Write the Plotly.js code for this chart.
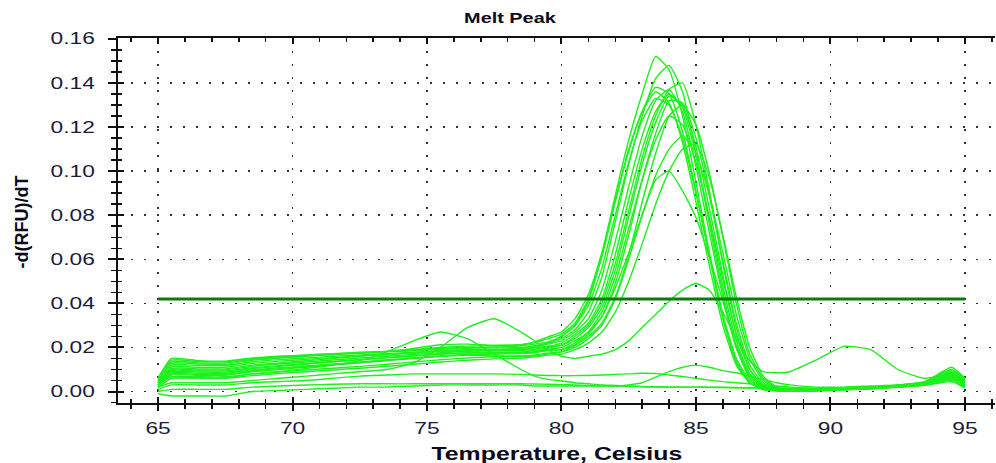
<!DOCTYPE html>
<html>
<head>
<meta charset="utf-8">
<script src="https://cdn.plot.ly/plotly-3.0.1.min.js"></script>
<style>html,body{margin:0;padding:0;background:#fff;}#chart{width:996px;height:463px;}</style>
</head>
<body>
<div id="chart"></div>
<script>
// Temperature grid (Celsius)
const temps = [65, 65.5, 66.5, 67.5, 68.5, 69.5, 70.5, 71.5, 72.5, 73.5, 74.5, 75.5, 76.5, 77.5, 78.5, 79, 79.5,
  80, 80.5, 81, 81.5, 82, 82.5, 83, 83.5, 84, 84.5, 85, 85.5, 86, 86.5, 87, 87.5, 88, 88.5,
  89.5, 90.5, 91.5, 92.5, 93.5, 94.5, 95];

// -d(RFU)/dT per well
const c1 = [0.006,0.0150,0.0140,0.0138,0.0152,0.0160,0.0166,0.0172,0.0178,0.0182,0.0188,0.0196,0.0200,0.0202,0.0208,0.0215,0.0225,
  0.025,0.030,0.041,0.062,0.089,0.114,0.135,0.152,0.146,0.125,0.095,0.063,0.034,0.014,0.004,0.001,0.0003,0.0002,
  0.0003,0.0008,0.0012,0.0020,0.0030,0.0060,0.0030];
const c2 = [0.005,0.0135,0.0130,0.0130,0.0146,0.0154,0.0162,0.0168,0.0174,0.0180,0.0185,0.0192,0.0196,0.0198,0.0200,0.0208,0.0220,
  0.024,0.028,0.036,0.052,0.077,0.103,0.125,0.142,0.148,0.136,0.108,0.076,0.045,0.020,0.006,0.0015,0.0005,0.0003,
  0.0005,0.0010,0.0015,0.0025,0.0040,0.0090,0.0050];
const c3 = [0.005,0.0120,0.0118,0.0118,0.0135,0.0145,0.0152,0.0160,0.0166,0.0172,0.0178,0.0184,0.0188,0.0190,0.0192,0.0198,0.0205,
  0.021,0.025,0.030,0.040,0.058,0.082,0.106,0.125,0.137,0.140,0.121,0.091,0.058,0.029,0.010,0.003,0.001,0.0005,
  0.0005,0.0010,0.0018,0.0025,0.0035,0.0075,0.0040];
const c4 = [0.006,0.0142,0.0136,0.0135,0.0150,0.0158,0.0164,0.0170,0.0176,0.0182,0.0190,0.0200,0.0206,0.0208,0.0212,0.0222,0.0240,
  0.026,0.031,0.042,0.061,0.086,0.109,0.127,0.138,0.135,0.118,0.091,0.061,0.033,0.013,0.004,0.001,0.0004,0.0002,
  0.0004,0.0008,0.0012,0.0020,0.0032,0.0065,0.0030];
const c5 = [0.004,0.0112,0.0110,0.0110,0.0128,0.0138,0.0146,0.0154,0.0162,0.0168,0.0174,0.0182,0.0186,0.0188,0.0192,0.0200,0.0215,
  0.023,0.027,0.033,0.046,0.068,0.093,0.116,0.132,0.137,0.127,0.102,0.072,0.043,0.020,0.007,0.002,0.0006,0.0003,
  0.0006,0.0012,0.0018,0.0028,0.0042,0.0110,0.0060];
const c6 = [0.005,0.0128,0.0125,0.0124,0.0142,0.0152,0.0160,0.0168,0.0175,0.0182,0.0196,0.0212,0.0215,0.0210,0.0212,0.0225,0.0248,
  0.027,0.033,0.044,0.063,0.087,0.110,0.127,0.136,0.131,0.113,0.086,0.057,0.030,0.012,0.004,0.001,0.0004,0.0002,
  0.0004,0.0009,0.0014,0.0022,0.0035,0.0070,0.0035];
const c7 = [0.004,0.0100,0.0098,0.0098,0.0115,0.0125,0.0134,0.0143,0.0152,0.0160,0.0168,0.0176,0.0182,0.0184,0.0186,0.0192,0.0205,
  0.022,0.026,0.031,0.042,0.062,0.087,0.110,0.127,0.135,0.129,0.107,0.078,0.048,0.023,0.008,0.0025,0.0008,0.0004,
  0.0006,0.0012,0.0018,0.0026,0.0038,0.0080,0.0045];
const c8 = [0.003,0.0090,0.0088,0.0088,0.0104,0.0114,0.0124,0.0134,0.0144,0.0153,0.0161,0.0170,0.0176,0.0178,0.0180,0.0186,0.0198,
  0.021,0.024,0.029,0.038,0.055,0.079,0.103,0.122,0.134,0.130,0.111,0.083,0.053,0.026,0.010,0.003,0.001,0.0005,
  0.0007,0.0013,0.0020,0.0028,0.0040,0.0085,0.0050];
const c9 = [0.004,0.0105,0.0103,0.0103,0.0120,0.0130,0.0140,0.0150,0.0160,0.0168,0.0176,0.0185,0.0190,0.0192,0.0195,0.0205,0.0222,
  0.025,0.030,0.039,0.056,0.080,0.104,0.123,0.133,0.130,0.115,0.090,0.062,0.035,0.015,0.005,0.0015,0.0005,0.0003,
  0.0005,0.0010,0.0016,0.0024,0.0036,0.0072,0.0038];
const c10 = [0.003,0.0080,0.0078,0.0078,0.0094,0.0104,0.0114,0.0124,0.0134,0.0144,0.0152,0.0162,0.0168,0.0172,0.0175,0.0180,0.0192,
  0.020,0.023,0.027,0.034,0.049,0.071,0.096,0.117,0.132,0.131,0.115,0.089,0.059,0.031,0.012,0.004,0.0012,0.0005,
  0.0006,0.0012,0.0019,0.0027,0.0039,0.0095,0.0055];
const c11 = [0.003,0.0075,0.0074,0.0074,0.0090,0.0100,0.0110,0.0120,0.0130,0.0140,0.0150,0.0160,0.0166,0.0170,0.0172,0.0176,0.0186,
  0.019,0.021,0.025,0.031,0.043,0.062,0.086,0.108,0.125,0.130,0.121,0.099,0.070,0.040,0.017,0.006,0.002,0.0008,
  0.0008,0.0014,0.0020,0.0030,0.0045,0.0100,0.0060];
const d1 = [0.004,0.0095,0.0093,0.0093,0.0108,0.0118,0.0127,0.0136,0.0145,0.0154,0.0162,0.0170,0.0175,0.0176,0.0176,0.0180,0.0190,
  0.019,0.022,0.027,0.036,0.052,0.074,0.096,0.114,0.125,0.121,0.104,0.079,0.051,0.026,0.010,0.003,0.001,0.0005,
  0.0006,0.0011,0.0017,0.0025,0.0036,0.0068,0.0035];
const e1 = [0.003,0.0068,0.0067,0.0067,0.0080,0.0090,0.0098,0.0106,0.0114,0.0124,0.0134,0.0144,0.0152,0.0158,0.0162,0.0166,0.0175,
  0.018,0.020,0.024,0.030,0.042,0.060,0.080,0.098,0.110,0.116,0.108,0.089,0.063,0.035,0.015,0.005,0.0015,0.0006,
  0.0007,0.0012,0.0018,0.0026,0.0038,0.0078,0.0042];
const f1 = [0.002,0.0060,0.0060,0.0060,0.0072,0.0082,0.0090,0.0098,0.0106,0.0115,0.0124,0.0134,0.0142,0.0148,0.0152,0.0158,0.0165,
  0.017,0.019,0.022,0.027,0.036,0.050,0.067,0.085,0.100,0.110,0.112,0.097,0.071,0.043,0.020,0.007,0.002,0.0008,
  0.0008,0.0013,0.0020,0.0028,0.0040,0.0082,0.0048];
const g1 = [0.003,0.0085,0.0083,0.0083,0.0098,0.0108,0.0116,0.0124,0.0132,0.0142,0.0152,0.0160,0.0164,0.0162,0.0160,0.0162,0.0170,
  0.018,0.021,0.026,0.034,0.047,0.063,0.080,0.096,0.100,0.091,0.079,0.061,0.041,0.021,0.008,0.0025,0.0008,0.0004,
  0.0006,0.0011,0.0016,0.0024,0.0034,0.0062,0.0030];
const h2 = [0.002,0.004,0.004,0.004,0.005,0.006,0.007,0.008,0.009,0.010,0.013,0.020,0.029,0.033,0.027,0.023,0.019,
  0.016,0.015,0.016,0.017,0.019,0.023,0.029,0.035,0.041,0.046,0.049,0.046,0.036,0.024,0.014,0.009,0.0085,0.009,
  0.0145,0.0205,0.019,0.010,0.006,0.008,0.004];
const l1 = [-0.001,-0.002,-0.002,-0.002,0.000,0.0005,0.001,0.0015,0.002,0.002,0.0025,0.003,0.003,0.003,0.003,0.0025,0.0025,
  0.0025,0.0025,0.0025,0.0025,0.0025,0.003,0.004,0.0065,0.009,0.011,0.012,0.011,0.0095,0.0085,0.007,0.0055,0.004,0.003,
  0.002,0.002,0.0025,0.003,0.004,0.006,0.003];
const l2 = [0.001,0.003,0.003,0.003,0.004,0.0045,0.005,0.006,0.007,0.0075,0.008,0.008,0.008,0.008,0.0078,0.0075,0.0073,
  0.0072,0.0072,0.0073,0.0075,0.0078,0.008,0.0083,0.0082,0.0075,0.0068,0.006,0.0052,0.0045,0.004,0.0035,0.003,0.0025,0.002,
  0.0015,0.0015,0.002,0.0025,0.003,0.005,0.002];
const l3 = [0.002,0.006,0.0062,0.0062,0.008,0.009,0.0105,0.012,0.014,0.018,0.023,0.027,0.024,0.017,0.010,0.007,0.0055,
  0.0048,0.004,0.0035,0.003,0.0028,0.0025,0.0022,0.002,0.002,0.002,0.002,0.002,0.002,0.0018,0.0017,0.0016,0.0015,0.0015,
  0.0012,0.0012,0.0015,0.002,0.003,0.0055,0.0025];
const l4 = [0.000,0.001,0.001,0.001,0.002,0.0025,0.003,0.0033,0.0035,0.0035,0.0035,0.0036,0.0036,0.0036,0.0035,0.0034,0.0033,
  0.0032,0.003,0.0028,0.0026,0.0025,0.0024,0.0023,0.0022,0.0021,0.002,0.002,0.0019,0.0018,0.0017,0.0016,0.0015,0.0014,0.0013,
  0.0012,0.0013,0.0016,0.002,0.0028,0.0045,0.0015];

const wells = [l4, l3, l2, l1, h2, g1, f1, e1, d1, c11, c10, c9, c8, c7, c6, c5, c4, c3, c2, c1];

// Threshold
const thresholdX = [65, 95];
const thresholdY = [0.042, 0.042];

const xRange = [63.51, 96.12];
const yRange = [-0.0052, 0.1604];

const fam = 'Liberation Sans, Arial, sans-serif';
const tickFont = {family: fam, size: 16, color: '#1b1b3a'};
const titleFont = {family: fam, size: 18, color: '#0a0a1a', weight: 'bold'};

const traces = wells.map(w => ({
  x: temps, y: w, type: 'scatter', mode: 'lines',
  line: {color: 'rgb(30,240,30)', width: 1.4, shape: 'spline', smoothing: 0.5},
  hoverinfo: 'skip', showlegend: false
}));
traces.push({
  x: thresholdX, y: thresholdY, type: 'scatter', mode: 'lines', xaxis: 'x2', yaxis: 'y2',
  line: {color: '#0b7a0b', width: 3}, hoverinfo: 'skip', showlegend: false
});

const innerTicks = (dt, t0, mdt, len, mlen) => ({
  tickmode: 'linear', dtick: dt, tick0: t0, ticks: 'inside', ticklen: len, tickwidth: 2, tickcolor: '#111',
  minor: {dtick: mdt, tick0: t0, ticks: 'inside', ticklen: mlen, tickwidth: 1.5, tickcolor: '#111', showgrid: false},
  showticklabels: false, showgrid: false, zeroline: false
});

const layout = {
  width: 996, height: 463,
  margin: {l: 118, r: 1, t: 38, b: 60},
  paper_bgcolor: '#fff', plot_bgcolor: '#fff',
  title: {text: 'Melt Peak', font: {family: fam, size: 14, color: '#0a0a1a', weight: 'bold'},
    xref: 'container', x: 0.512, xanchor: 'center', yref: 'container', y: 0.961, yanchor: 'middle'},
  xaxis: {
    range: xRange, tick0: 65, dtick: 5, tickmode: 'linear',
    showline: true, linecolor: '#111', linewidth: 2, mirror: true,
    ticks: 'outside', ticklen: 6, tickwidth: 2, tickcolor: '#111',
    minor: {dtick: 1, tick0: 65, ticks: 'outside', ticklen: 4, tickwidth: 1.5, tickcolor: '#111', showgrid: false},
    showgrid: true, gridcolor: '#333', gridwidth: 1.5, griddash: '2px,11px',
    zeroline: false, tickfont: tickFont, ticklabelstandoff: 4
  },
  yaxis: {
    range: yRange, tick0: 0, dtick: 0.02, tickmode: 'linear', tickformat: '.2f',
    showline: true, linecolor: '#111', linewidth: 2,
    ticks: 'outside', ticklen: 8, tickwidth: 2, tickcolor: '#111',
    minor: {dtick: 0.005, tick0: 0, ticks: 'outside', ticklen: 5, tickwidth: 1.5, tickcolor: '#111', showgrid: false},
    showgrid: true, gridcolor: '#333', gridwidth: 1.5, griddash: '2px,11px',
    zeroline: false, tickfont: tickFont, ticklabelstandoff: 10
  },
  xaxis2: Object.assign({overlaying: 'x', anchor: 'y2', side: 'bottom', range: xRange, mirror: 'ticks', showline: false},
    innerTicks(5, 65, 1, 6, 4)),
  yaxis2: Object.assign({overlaying: 'y', anchor: 'x2', side: 'left', range: yRange, showline: false},
    innerTicks(0.02, 0, 0.005, 6, 4)),
  annotations: [
    {text: 'Temperature, Celsius', xref: 'paper', yref: 'paper', x: 0.5, y: -0.1397, xanchor: 'center', yanchor: 'middle',
      showarrow: false, font: titleFont},
    {text: '-d(RFU)/dT', xref: 'paper', yref: 'paper', x: -0.1095, y: 0.497, xanchor: 'center', yanchor: 'middle',
      textangle: -90, showarrow: false, font: titleFont}
  ]
};

Plotly.newPlot('chart', traces, layout, {staticPlot: true, displayModeBar: false}).then(gd => {
  const stretch = 1.42;
  const sel = gd.querySelectorAll('.xtick text, .ytick text, .gtitle');
  sel.forEach(el => {
    const len = el.getComputedTextLength();
    el.setAttribute('textLength', (len * stretch).toFixed(1));
    el.setAttribute('lengthAdjust', 'spacingAndGlyphs');
  });
  const ann = gd.querySelectorAll('.annotation-text');
  if (ann.length) {
    const el = ann[0];
    const len = el.getComputedTextLength();
    el.setAttribute('textLength', (len * 1.38).toFixed(1));
    el.setAttribute('lengthAdjust', 'spacingAndGlyphs');
  }
});
</script>
</body>
</html>
